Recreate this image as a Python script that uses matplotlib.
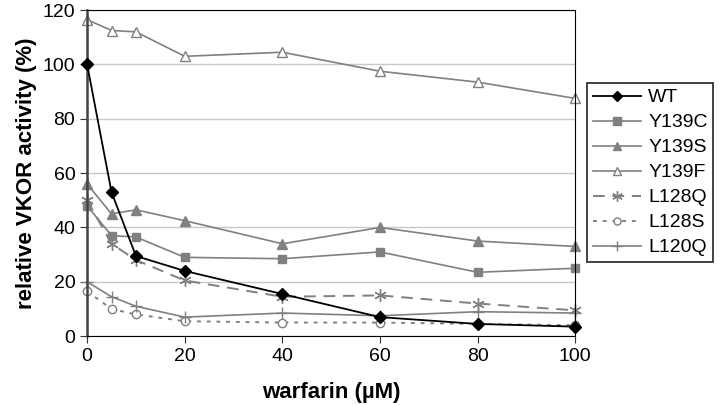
import matplotlib
matplotlib.use('Agg')
import matplotlib.pyplot as plt

plt.rcParams['font.family'] = ['Liberation Sans', 'DejaVu Sans']

# warfarin concentrations (uM)
warfarin = [0, 5, 10, 20, 40, 60, 80, 100]

# relative VKOR activity (%)
wt = [100, 53, 29.5, 24, 15.5, 7, 4.5, 3.5]
y139c = [48, 37, 36.5, 29, 28.5, 31, 23.5, 25]
y139s = [56, 45, 46.5, 42.5, 34, 40, 35, 33]
y139f = [116.5, 112.5, 112, 103, 104.5, 97.5, 93.5, 87.5]
l128q = [50, 34, 28, 20.5, 14.5, 15, 12, 9.5]
l128s = [16.5, 10, 8, 5.5, 5, 5, 4.5, 4]
l120q = [20, 14.5, 11, 7, 8.5, 7.5, 9, 8.5]

grey = '#808080'

fig = plt.figure(figsize=(7.2, 4.05), dpi=100)
ax = fig.add_axes([0.121, 0.170, 0.678, 0.805])

ax.plot(warfarin, wt, color='black', marker='D', ms=6, lw=1.3, label='WT', zorder=5, clip_on=False)
ax.plot(warfarin, y139c, color=grey, marker='s', ms=6, lw=1.2, label='Y139C', clip_on=False)
ax.plot(warfarin, y139s, color=grey, marker='^', ms=7, lw=1.2, label='Y139S', clip_on=False)
ax.plot(warfarin, y139f, color=grey, marker='^', ms=7, lw=1.2, mfc='white', label='Y139F', clip_on=False)
ax.plot(warfarin, l128q, color=grey, marker=(6, 2, 0), ms=9, lw=1.4, ls=(0, (6, 4)), label='L128Q', clip_on=False)
ax.plot(warfarin, l128s, color=grey, marker='o', ms=6, lw=1.4, ls=(0, (2, 3)), mfc='white', label='L128S', clip_on=False)
ax.plot(warfarin, l120q, color=grey, marker='+', ms=9, lw=1.2, label='L120Q', clip_on=False)

ax.set_xlim(0, 100)
ax.set_ylim(0, 120)
ax.set_xticks([0, 20, 40, 60, 80, 100])
ax.set_yticks([0, 20, 40, 60, 80, 100, 120])
ax.yaxis.grid(True, color='#c8c8c8', lw=1)
ax.set_axisbelow(True)
ax.tick_params(labelsize=14, direction='out', length=5, color='#333333')
for s in ax.spines.values():
    s.set_color('black')
ax.spines['left'].set_linewidth(1.8)
ax.spines['left'].set_color('#444444')

ax.set_xlabel('warfarin (\u00b5M)', fontsize=16, fontweight='bold', labelpad=12)
ax.set_ylabel('relative VKOR activity (%)', fontsize=16, fontweight='bold', labelpad=4)

leg = fig.legend(loc='upper left', bbox_to_anchor=(0.815, 0.795), fontsize=14,
                 frameon=True, fancybox=False, edgecolor='black', handlelength=2.5,
                 markerscale=0.85, borderpad=0.3, labelspacing=0.38, handletextpad=0.35,
                 borderaxespad=0)
leg.get_frame().set_linewidth(1.3)

fig.savefig('out.png', dpi=100)
